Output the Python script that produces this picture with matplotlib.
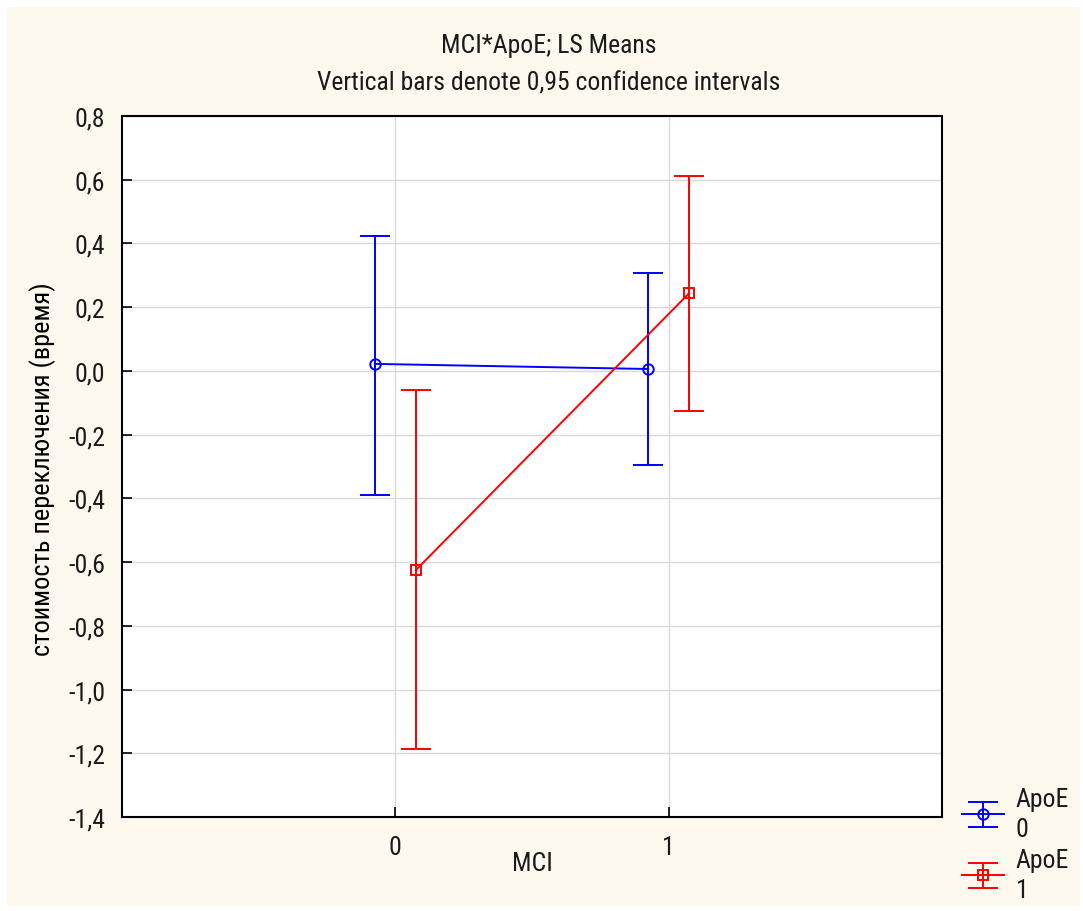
import matplotlib
matplotlib.use("Agg")
import matplotlib.pyplot as plt
from matplotlib.patches import Rectangle
from matplotlib.ticker import FuncFormatter
from matplotlib import font_manager

# data (LS means with 95% CI)
mci_levels = [0, 1]
mci_labels = ["0", "1"]
apoe0_mean = [0.022, 0.006]
apoe0_low = [-0.39, -0.295]
apoe0_high = [0.423, 0.307]
apoe1_mean = [-0.625, 0.244]
apoe1_low = [-1.187, -0.126]
apoe1_high = [-0.06, 0.612]

# pick a narrow face if one is installed
names = {f.name for f in font_manager.fontManager.ttflist}
narrow = [n for n in ["Liberation Sans Narrow", "Roboto Condensed", "Open Sans Condensed",
                      "DejaVu Sans Condensed", "Noto Sans Condensed"] if n in names]
NARROW = narrow[:1] + ["DejaVu Sans"]
STRETCH = "condensed"
FS = 18.5
TXT = "#1a1a1a"
BG = "#fdf9ee"

fig = plt.figure(figsize=(10.83, 9.12), dpi=100)
fig.patch.set_facecolor("white")
fig.patches.append(Rectangle((7 / 1083, 5 / 912), 1073 / 1083, 899 / 912,
                             transform=fig.transFigure, facecolor=BG,
                             edgecolor="none", zorder=-10))

ax = fig.add_axes([122 / 1083, 94 / 912, 820 / 1083, 701 / 912])
ax.set_facecolor("white")

off = 0.075
series = [
    ("ApoE\n0", apoe0_mean, apoe0_low, apoe0_high, "#0000ff", "o", -off),
    ("ApoE\n1", apoe1_mean, apoe1_low, apoe1_high, "#ff0000", "s", off),
]
for label, mean, low, high, color, marker, dx in series:
    xs = [x + dx for x in mci_levels]
    yerr = [[m - l for m, l in zip(mean, low)], [h - m for m, h in zip(mean, high)]]
    ax.errorbar(xs, mean, yerr=yerr, color=color, lw=1.4, elinewidth=1.4,
                capsize=11, capthick=1.4, marker=marker, markersize=7.5,
                markerfacecolor="none", markeredgecolor=color,
                markeredgewidth=1.4, label=label, zorder=3)

ax.set_xlim(-1, 2)
ax.set_ylim(-1.4, 0.8)
ax.set_xticks(mci_levels)
ax.set_xticklabels(mci_labels)
ax.set_yticks([-1.4 + 0.2 * i for i in range(12)])
ax.yaxis.set_major_formatter(FuncFormatter(lambda v, p: f"{v:.1f}".replace(".", ",").replace("-0,0", "0,0")))
ax.grid(True, color="#d8d8d8", lw=1.0, zorder=0)
ax.tick_params(direction="in", length=7, width=1.2, labelsize=FS, labelcolor=TXT)
ax.tick_params(axis="y", pad=12)
ax.tick_params(axis="x", pad=13)
for lab in ax.get_xticklabels() + ax.get_yticklabels():
    lab.set_family(NARROW)
    lab.set_stretch(STRETCH)
for sp in ax.spines.values():
    sp.set_linewidth(1.5)
    sp.set_color("black")

ax.set_ylabel("стоимость переключения (время)", fontsize=19, color="black",
              family=NARROW, stretch=STRETCH)
ax.yaxis.label.set_va("center")
ax.yaxis.set_label_coords(-0.0963, 0.498)
fig.text(532 / 1083, 48 / 912, "MCI", ha="center", va="center",
         fontsize=FS, family=NARROW, stretch=STRETCH, color=TXT)

fig.text(549 / 1083, 866 / 912, "MCI*ApoE; LS Means", ha="center",
         va="center", fontsize=FS, family=NARROW, stretch=STRETCH, color=TXT)
fig.text(549 / 1083, 829 / 912, "Vertical bars denote 0,95 confidence intervals",
         ha="center", va="center", fontsize=FS, family=NARROW, stretch=STRETCH,
         color=TXT)

leg = fig.legend(loc="upper left", bbox_to_anchor=(941 / 1083, 145 / 912),
                 frameon=False, prop={"family": NARROW, "size": FS, "stretch": STRETCH},
                 handlelength=1.65, labelspacing=0.25, handletextpad=0.45,
                 borderpad=0.3)
for t in leg.get_texts():
    t.set_color(TXT)
    t.set_linespacing(1.35)

fig.savefig("out.png", dpi=100, facecolor=fig.get_facecolor())
